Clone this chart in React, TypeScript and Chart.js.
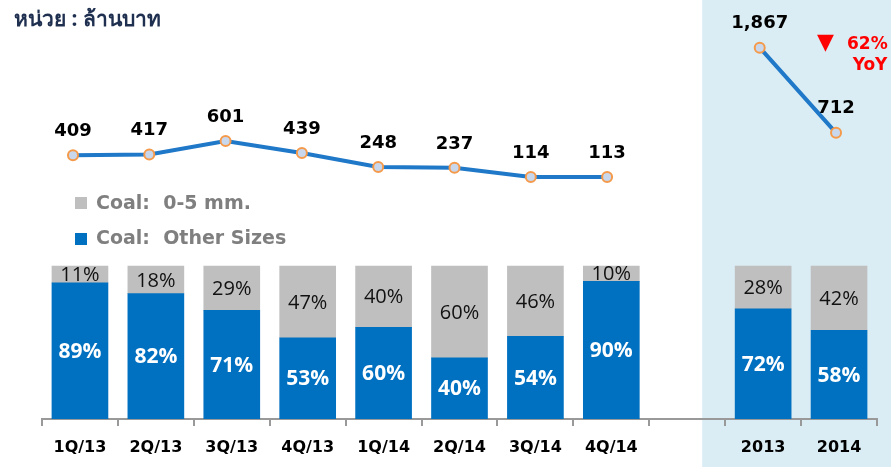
import React, { useEffect, useRef } from "react";
import { Chart, registerables } from "chart.js";

Chart.register(...registerables);

const categories = ["1Q/13", "2Q/13", "3Q/13", "4Q/13", "1Q/14", "2Q/14", "3Q/14", "4Q/14", "", "2013", "2014"];
const otherSizes = [89, 82, 71, 53, 60, 40, 54, 90, null, 72, 58];
const fines = [11, 18, 29, 47, 40, 60, 46, 10, null, 28, 42];
const revenue = [409, 417, 601, 439, 248, 237, 114, 113, null, 1867, 712];
const unitText = "หน่วย : ล้านบาท";
const legendLabels = ["Coal:  0-5 mm.", "Coal:  Other Sizes"];
const yoyText = ["62%", "YoY"];

const BLUE = "#0070c0";
const GREY = "#bfbfbf";

const bgPlugin = {
  id: "bgShade",
  beforeDraw(chart: any) {
    const ctx = chart.ctx;
    const x = chart.scales.x;
    const left = (x.getPixelForValue(8) + x.getPixelForValue(9)) / 2 - 23;
    ctx.save();
    ctx.fillStyle = "#daedf4";
    ctx.fillRect(left, 0, chart.width - left, chart.height);
    ctx.restore();
  },
};

const labelPlugin = {
  id: "labels",
  afterDatasetsDraw(chart: any) {
    const ctx = chart.ctx;
    ctx.save();
    ctx.textAlign = "center";
    ctx.textBaseline = "middle";
    // bar labels
    [0, 1].forEach((di) => {
      const meta = chart.getDatasetMeta(di);
      const data = chart.data.datasets[di].data;
      meta.data.forEach((el: any, i: number) => {
        const v = data[i];
        if (v == null) return;
        const cy = (el.y + el.base) / 2;
        if (di === 0) {
          ctx.fillStyle = "#ffffff";
          ctx.font = 'bold 21px "Open Sans", sans-serif';
        } else {
          ctx.fillStyle = "#111111";
          ctx.font = '20px "Open Sans", sans-serif';
        }
        ctx.fillText(v + "%", el.x, cy + 1);
      });
    });
    // line labels
    const lm = chart.getDatasetMeta(2);
    const ld = chart.data.datasets[2].data;
    ctx.fillStyle = "#000000";
    ctx.font = 'bold 18px "DejaVu Sans", sans-serif';
    lm.data.forEach((el: any, i: number) => {
      const v = ld[i];
      if (!v || v.y == null) return;
      ctx.fillText(v.y.toLocaleString("en-US"), el.x, el.y - 24);
    });

    // legend
    ctx.textAlign = "left";
    ctx.font = 'bold 19px "DejaVu Sans", sans-serif';
    ctx.fillStyle = GREY;
    ctx.fillRect(75, 197, 12, 12);
    ctx.fillStyle = BLUE;
    ctx.fillRect(75, 233, 12, 12);
    ctx.fillStyle = "#7f7f7f";
    ctx.fillText(legendLabels[0], 96, 204);
    ctx.fillText(legendLabels[1], 96, 239);

    // unit title
    ctx.fillStyle = "#1f2f4f";
    ctx.font = 'bold 21px "Noto Sans", "DejaVu Sans", sans-serif';
    ctx.fillText(unitText, 14, 20);

    // YoY annotation
    ctx.fillStyle = "#ff0000";
    ctx.font = '22px "DejaVu Sans", sans-serif';
    ctx.fillText("▼", 817, 43);
    ctx.font = 'bold 17px "DejaVu Sans", sans-serif';
    ctx.fillText(yoyText[0], 847, 45);
    ctx.textAlign = "center";
    ctx.fillText(yoyText[1], 870, 66);
    ctx.restore();
  },
};

export default function App() {
  const ref = useRef<HTMLCanvasElement | null>(null);
  useEffect(() => {
    if (!ref.current) return;
    const chart = new Chart(ref.current, {
      type: "bar",
      data: {
        labels: categories,
        datasets: [
          {
            type: "bar",
            label: legendLabels[1],
            data: otherSizes,
            backgroundColor: BLUE,
            yAxisID: "y",
            xAxisID: "x",
            stack: "s",
            grouped: false,
            barThickness: 56,
          },
          {
            type: "bar",
            label: legendLabels[0],
            data: fines,
            backgroundColor: GREY,
            yAxisID: "y",
            xAxisID: "x",
            stack: "s",
            grouped: false,
            barThickness: 56,
          },
          {
            type: "line",
            label: "Revenue",
            data: revenue.map((v, i) => ({ x: i, y: v })),
            yAxisID: "yl",
            xAxisID: "xl",
            borderColor: "#1f78c8",
            borderWidth: 4,
            pointRadius: 5,
            pointBorderWidth: 2,
            pointBackgroundColor: "#c9d7ec",
            pointBorderColor: "#f59a4a",
            spanGaps: false,
            tension: 0,
          } as any,
        ],
      },
      options: {
        animation: false,
        responsive: false,
        maintainAspectRatio: false,
        layout: { padding: { left: 42, right: 14, top: 10, bottom: 0 } },
        plugins: { legend: { display: false }, tooltip: { enabled: false } },
        scales: {
          x: {
            stacked: true,
            offset: true,
            afterFit: (s: any) => {
              s.height = 48;
            },
            grid: {
              display: true,
              offset: true,
              drawOnChartArea: false,
              drawTicks: true,
              tickLength: 7,
              color: "#999999",
              lineWidth: 2,
            },
            border: { display: true, color: "#999999", width: 2 },
            ticks: {
              autoSkip: false,
              maxRotation: 0,
              padding: 12,
              color: "#000000",
              font: { family: "DejaVu Sans", weight: "bold", size: 16 },
            },
          },
          xl: {
            type: "linear",
            display: false,
            offset: false,
            min: -0.406,
            max: 10.537,
          },
          y: {
            stacked: true,
            display: false,
            min: 0,
            max: 267.4,
          },
          yl: {
            display: false,
            min: -3171,
            max: 2378.6,
          },
        },
      } as any,
      plugins: [bgPlugin, labelPlugin],
    });
    return () => chart.destroy();
  }, []);
  return (
    <div style={{ position: "fixed", left: 0, top: 0, width: 891, height: 467, background: "#ffffff" }}>
      <canvas ref={ref} width={891} height={467} style={{ width: 891, height: 467 }} />
    </div>
  );
}
